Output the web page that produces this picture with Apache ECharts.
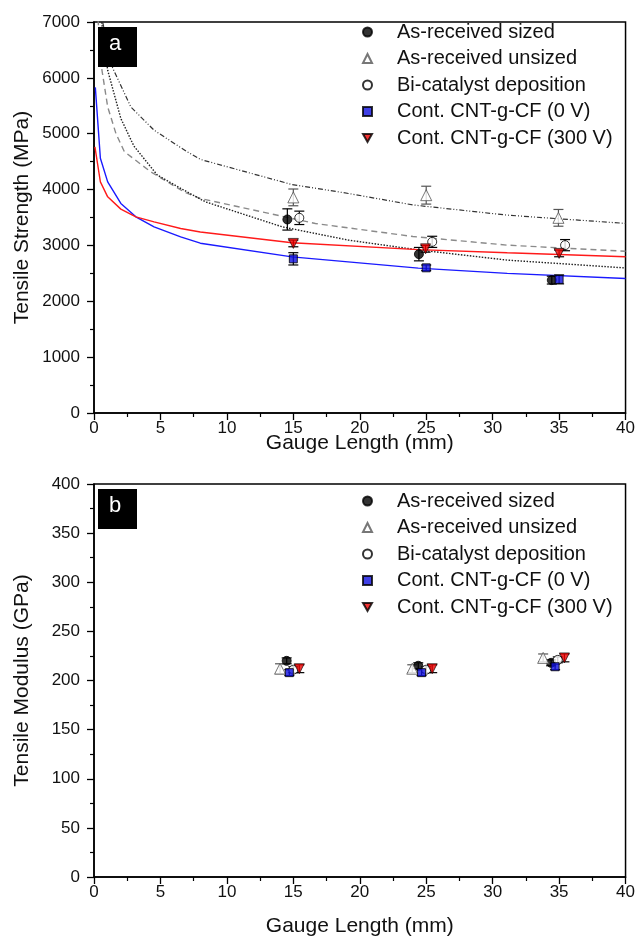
<!DOCTYPE html>
<html>
<head>
<meta charset="utf-8">
<script src="https://cdn.jsdelivr.net/npm/echarts@6/dist/echarts.min.js"></script>
<style>
html,body{margin:0;padding:0;background:#fff;}
#chart{width:638px;height:939px;}
</style>
</head>
<body>
<div id="chart"></div>
<script>
// ---------- Data ----------
var seriesNames = ['As-received sized', 'As-received unsized', 'Bi-catalyst deposition', 'Cont. CNT-g-CF (0 V)', 'Cont. CNT-g-CF (300 V)'];

// (a) Tensile strength (MPa)
var sizedX = [14.55, 24.45, 34.45];
var sizedY = [3465, 2844, 2379];
var sizedErr = [190, 120, 70];

var unsizedX = [15.0, 25.0, 34.95];
var unsizedY = [3860, 3900, 3494];
var unsizedErr = [150, 160, 150];

var bicatX = [15.45, 25.45, 35.45];
var bicatY = [3494, 3064, 3005];
var bicatErr = [120, 100, 100];

var cnt0X = [15.0, 25.0, 35.0];
var cnt0Y = [2760, 2599, 2392];
var cnt0Err = [110, 50, 80];

var cnt300X = [15.0, 24.95, 35.0];
var cnt300Y = [3036, 2939, 2857];
var cnt300Err = [60, 60, 60];

// Fitted curves
var fitSizedX = [0.55, 1.03, 2.02, 3.0, 4.77, 6.77, 8.39, 14.16, 19.15, 24.4, 31.1, 40];
var fitSizedY = [7050, 6136, 5272, 4780, 4258, 3989, 3780, 3333, 3095, 2920, 2737, 2597];

var fitUnsizedX = [0.65, 1.4, 2.77, 4.52, 7.02, 8.0, 14.9, 19.15, 24.0, 31.1, 40];
var fitUnsizedY = [7000, 6180, 5479, 5063, 4675, 4540, 4090, 3930, 3725, 3542, 3394];

var fitBicatX = [0.3, 0.58, 1.03, 1.65, 2.28, 4.27, 4.9, 6.77, 8.0, 16.66, 24.0, 31.1, 40];
var fitBicatY = [7050, 6166, 5479, 5004, 4680, 4317, 4227, 3959, 3840, 3393, 3160, 3005, 2895];

var fitCnt0X = [0.1, 0.48, 1.03, 2.02, 3.15, 4.52, 6.52, 8.0, 14.9, 24.4, 31.1, 40];
var fitCnt0Y = [5830, 4560, 4138, 3751, 3512, 3333, 3154, 3040, 2796, 2594, 2499, 2408];

var fitCnt300X = [0.07, 0.48, 1.03, 2.02, 3.15, 4.52, 6.52, 8.0, 14.9, 24.4, 31.1, 40];
var fitCnt300Y = [4764, 4138, 3870, 3650, 3512, 3422, 3304, 3240, 3047, 2925, 2868, 2796];

// (b) Tensile modulus (GPa)
var modSizedX = [14.5, 24.4, 34.4];
var modSizedY = [220, 215, 218];
var modSizedErr = [3, 3, 3];

var modUnsizedX = [14.0, 23.95, 33.8];
var modUnsizedY = [212, 212, 223];
var modUnsizedErr = [5, 4, 4];

var modBicatX = [15.0, 25.0, 34.9];
var modBicatY = [211, 211, 221];
var modBicatErr = [3, 3, 3];

var modCnt0X = [14.7, 24.65, 34.7];
var modCnt0Y = [208, 208, 214];
var modCnt0Err = [3, 3, 3];

var modCnt300X = [15.45, 25.45, 35.4];
var modCnt300Y = [212, 212, 223];
var modCnt300Err = [4, 4, 4];

// ---------- Helpers ----------
function pts(xs, ys) { return xs.map(function (x, i) { return [x, ys[i]]; }); }
function errPts(xs, ys, es) { return xs.map(function (x, i) { return [x, ys[i], es[i]]; }); }

var FONT = 'Liberation Sans, Arial, sans-serif';
var TXT = '#111';

var styles = [
  { symbol: 'circle', size: 9, item: { color: '#000', borderColor: '#000', borderWidth: 1 }, err: '#000' },
  { symbol: 'triangle', size: 11, item: { color: '#fff', borderColor: '#555', borderWidth: 1 }, err: '#555' },
  { symbol: 'circle', size: 9, item: { color: '#fff', borderColor: '#000', borderWidth: 1 }, err: '#000' },
  { symbol: 'rect', size: 8, item: { color: '#1010e0', borderColor: '#000', borderWidth: 1 }, err: '#000' },
  { symbol: 'path://M0,0 L10,0 L5,9 Z', size: 10, item: { color: '#f00000', borderColor: '#000', borderWidth: 0.8 }, err: '#000' }
];

function errorSeries(data, color, gi) {
  return {
    type: 'custom',
    xAxisIndex: gi, yAxisIndex: gi,
    silent: true,
    z: 2,
    data: data,
    renderItem: function (params, api) {
      var x = api.value(0), y = api.value(1), e = api.value(2);
      var top = api.coord([x, y + e]);
      var bot = api.coord([x, y - e]);
      var w = 5;
      var st = { stroke: color, lineWidth: 1.2 };
      return {
        type: 'group',
        children: [
          { type: 'line', shape: { x1: top[0], y1: top[1], x2: bot[0], y2: bot[1] }, style: st },
          { type: 'line', shape: { x1: top[0] - w, y1: top[1], x2: top[0] + w, y2: top[1] }, style: st },
          { type: 'line', shape: { x1: bot[0] - w, y1: bot[1], x2: bot[0] + w, y2: bot[1] }, style: st }
        ]
      };
    }
  };
}

function scatterSeries(name, data, idx, gi) {
  var s = styles[idx];
  return {
    name: name, type: 'scatter', xAxisIndex: gi, yAxisIndex: gi,
    symbol: s.symbol, symbolSize: s.size, z: 4,
    itemStyle: s.item,
    data: data
  };
}

function lineSeries(data, color, type, width, gi) {
  return {
    type: 'line', xAxisIndex: gi, yAxisIndex: gi,
    showSymbol: false, symbol: 'none', smooth: false, silent: true, z: 1,
    clip: true,
    lineStyle: { color: color, type: type, width: width },
    data: data
  };
}

function xAxisCfg(gi, gap) {
  return {
    type: 'value', gridIndex: gi, min: 0, max: 40, interval: 5,
    name: 'Gauge Length (mm)', nameLocation: 'middle', nameGap: gap, nameMoveOverlap: false,
    nameTextStyle: { fontFamily: FONT, fontSize: 21, color: TXT },
    axisLine: { show: true, onZero: false, lineStyle: { color: '#000', width: 1.5 } },
    axisTick: { show: true, inside: false, length: 7, lineStyle: { color: '#000', width: 1.3 } },
    minorTick: { show: true, splitNumber: 2, length: 4, lineStyle: { color: '#000', width: 1.2 } },
    axisLabel: { fontFamily: FONT, fontSize: 17, color: TXT, margin: 7, showMaxLabel: true, showMinLabel: true,
      formatter: function (v) { return String(v); } },
    splitLine: { show: false }
  };
}

function yAxisCfg(gi, name, max, interval) {
  return {
    type: 'value', gridIndex: gi, min: 0, max: max, interval: interval,
    name: name, nameLocation: 'middle', nameGap: 61, nameMoveOverlap: false,
    nameTextStyle: { fontFamily: FONT, fontSize: 21, color: TXT },
    axisLine: { show: true, onZero: false, lineStyle: { color: '#000', width: 1.5 } },
    axisTick: { show: true, inside: false, length: 7, lineStyle: { color: '#000', width: 1.3 } },
    minorTick: { show: true, splitNumber: 2, length: 4, lineStyle: { color: '#000', width: 1.2 } },
    axisLabel: { fontFamily: FONT, fontSize: 17, color: TXT, margin: 14,
      formatter: function (v) { return String(v); } },
    splitLine: { show: false }
  };
}

function legendCfg(top) {
  return {
    data: seriesNames,
    orient: 'vertical',
    left: 357, top: top,
    itemWidth: 9, itemHeight: 9,
    itemGap: 6.5,
    selectedMode: false,
    textStyle: { fontFamily: FONT, fontSize: 20, color: TXT, padding: [0, 0, 0, 20] }
  };
}

var chart = echarts.init(document.getElementById('chart'), null, { renderer: 'canvas' });

var series = [];
// Top: fitted curves
series.push(lineSeries(pts(fitUnsizedX, fitUnsizedY), '#333', [5, 2, 1, 2, 1, 2], 1.2, 0));
series.push(lineSeries(pts(fitBicatX, fitBicatY), '#8a8a8a', [6, 4], 1.4, 0));
series.push(lineSeries(pts(fitSizedX, fitSizedY), '#222', [1.5, 1.5], 1.4, 0));
series.push(lineSeries(pts(fitCnt0X, fitCnt0Y), '#1a1aff', 'solid', 1.4, 0));
series.push(lineSeries(pts(fitCnt300X, fitCnt300Y), '#ff1a1a', 'solid', 1.4, 0));

var topSets = [
  [sizedX, sizedY, sizedErr],
  [unsizedX, unsizedY, unsizedErr],
  [bicatX, bicatY, bicatErr],
  [cnt0X, cnt0Y, cnt0Err],
  [cnt300X, cnt300Y, cnt300Err]
];
var botSets = [
  [modSizedX, modSizedY, modSizedErr],
  [modUnsizedX, modUnsizedY, modUnsizedErr],
  [modBicatX, modBicatY, modBicatErr],
  [modCnt0X, modCnt0Y, modCnt0Err],
  [modCnt300X, modCnt300Y, modCnt300Err]
];
topSets.forEach(function (s, i) {
  series.push(errorSeries(errPts(s[0], s[1], s[2]), styles[i].err, 0));
});
botSets.forEach(function (s, i) {
  series.push(errorSeries(errPts(s[0], s[1], s[2]), styles[i].err, 1));
});
topSets.forEach(function (s, i) {
  series.push(scatterSeries(seriesNames[i], pts(s[0], s[1]), i, 0));
});
botSets.forEach(function (s, i) {
  series.push(scatterSeries(seriesNames[i], pts(s[0], s[1]), i, 1));
});

var option = {
  animation: false,
  backgroundColor: '#fff',
  grid: [
    { left: 94, right: 10, top: 22, bottom: 526, show: true, borderColor: '#000', borderWidth: 1.5, backgroundColor: 'transparent' },
    { left: 94, right: 10, top: 484, bottom: 62, show: true, borderColor: '#000', borderWidth: 1.5, backgroundColor: 'transparent' }
  ],
  xAxis: [xAxisCfg(0, 20), xAxisCfg(1, 39)],
  yAxis: [yAxisCfg(0, 'Tensile Strength (MPa)', 7000, 1000), yAxisCfg(1, 'Tensile Modulus (GPa)', 400, 50)],
  legend: [legendCfg(17), legendCfg(486)],
  series: series,
  graphic: [
    { type: 'rect', left: 98, top: 27, shape: { width: 39, height: 40 }, style: { fill: '#000' }, z: 100 },
    { type: 'text', left: 109, top: 33, style: { text: 'a', fill: '#fff', font: '22px Liberation Sans, Arial, sans-serif' }, z: 101 },
    { type: 'rect', left: 98, top: 489, shape: { width: 39, height: 40 }, style: { fill: '#000' }, z: 100 },
    { type: 'text', left: 109, top: 495, style: { text: 'b', fill: '#fff', font: '22px Liberation Sans, Arial, sans-serif' }, z: 101 }
  ]
};
chart.setOption(option);
</script>
</body>
</html>
